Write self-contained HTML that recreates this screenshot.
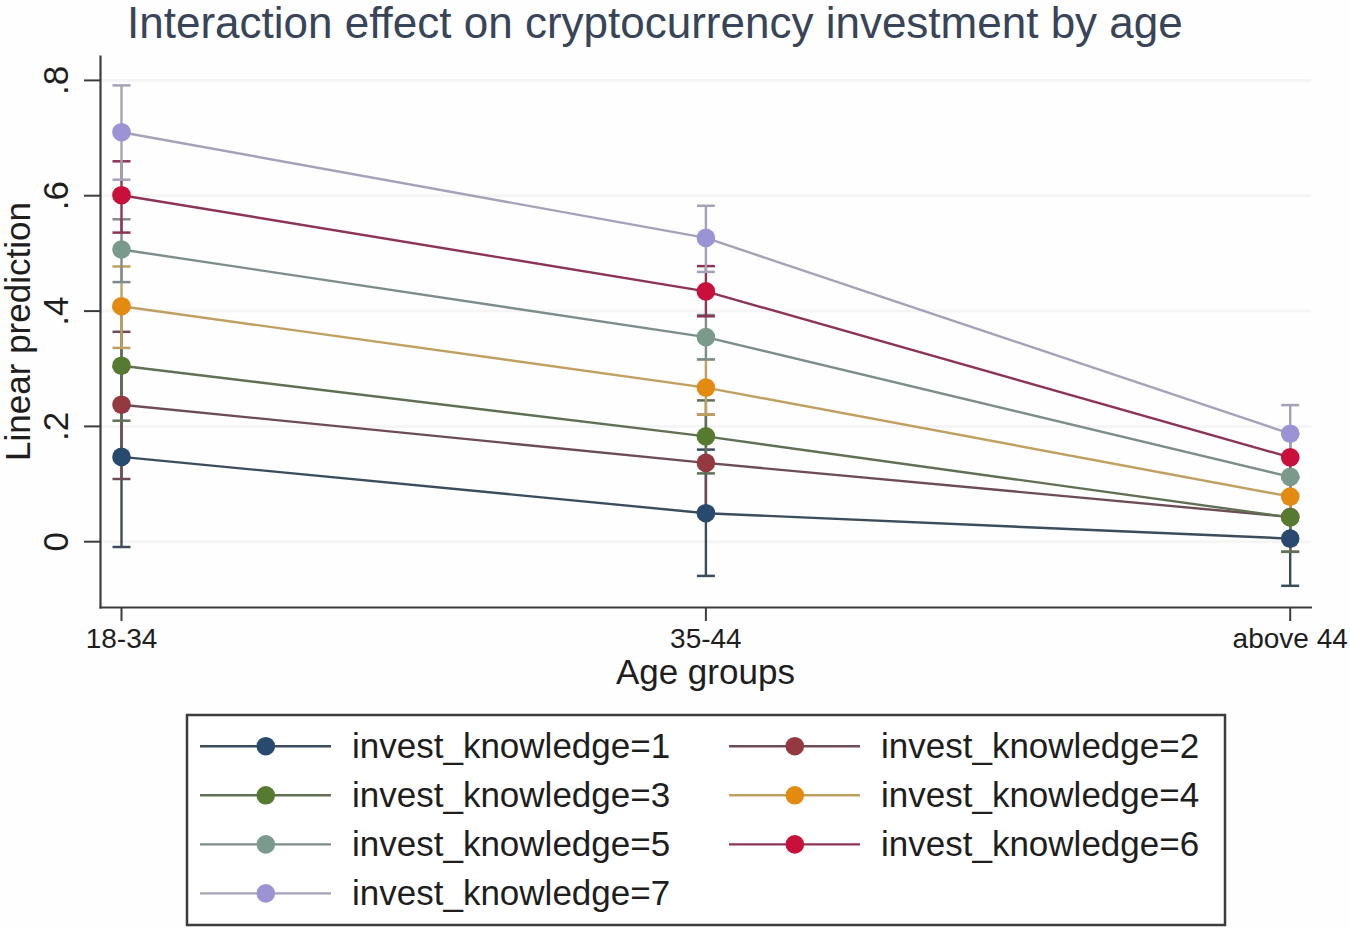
<!DOCTYPE html>
<html><head><meta charset="utf-8"><style>
html,body{margin:0;padding:0;background:#fff;}
body{width:1350px;height:930px;overflow:hidden;}
svg{display:block;}
#wrap{width:1350px;height:930px;}
text{font-family:"Liberation Sans",sans-serif;}
.title{font-size:44px;fill:#384457;}
.axt{font-size:35px;fill:#1e1e1e;}
.xl{font-size:28px;fill:#1e1e1e;}
.yl{font-size:35px;fill:#1e1e1e;}
.lg{font-size:35px;fill:#1e1e1e;}
</style></head><body>
<div id="wrap"><svg width="1350" height="930" viewBox="0 0 1350 930">
<rect width="1350" height="930" fill="#fefefe"/>
<line x1="101" y1="541.7" x2="1311" y2="541.7" stroke="#f5f5f5" stroke-width="3"/>
<line x1="101" y1="426.4" x2="1311" y2="426.4" stroke="#f5f5f5" stroke-width="3"/>
<line x1="101" y1="311.1" x2="1311" y2="311.1" stroke="#f5f5f5" stroke-width="3"/>
<line x1="101" y1="195.7" x2="1311" y2="195.7" stroke="#f5f5f5" stroke-width="3"/>
<line x1="101" y1="80.4" x2="1311" y2="80.4" stroke="#f5f5f5" stroke-width="3"/>
<line x1="100.5" y1="55.5" x2="100.5" y2="608.5" stroke="#3a3e3a" stroke-width="2.2"/>
<line x1="99.5" y1="607.5" x2="1312" y2="607.5" stroke="#3a3e3a" stroke-width="2.2"/>
<line x1="84" y1="541.7" x2="100" y2="541.7" stroke="#3a3e3a" stroke-width="2"/>
<text x="68.3" y="541.7" transform="rotate(-90 68.3 541.7)" text-anchor="middle" class="yl">0</text>
<line x1="84" y1="426.4" x2="100" y2="426.4" stroke="#3a3e3a" stroke-width="2"/>
<text x="68.3" y="426.4" transform="rotate(-90 68.3 426.4)" text-anchor="middle" class="yl">.2</text>
<line x1="84" y1="311.1" x2="100" y2="311.1" stroke="#3a3e3a" stroke-width="2"/>
<text x="68.3" y="311.1" transform="rotate(-90 68.3 311.1)" text-anchor="middle" class="yl">.4</text>
<line x1="84" y1="195.7" x2="100" y2="195.7" stroke="#3a3e3a" stroke-width="2"/>
<text x="68.3" y="195.7" transform="rotate(-90 68.3 195.7)" text-anchor="middle" class="yl">.6</text>
<line x1="84" y1="80.4" x2="100" y2="80.4" stroke="#3a3e3a" stroke-width="2"/>
<text x="68.3" y="80.4" transform="rotate(-90 68.3 80.4)" text-anchor="middle" class="yl">.8</text>
<line x1="121.5" y1="607" x2="121.5" y2="621" stroke="#3a3e3a" stroke-width="2"/>
<text x="121.5" y="648" text-anchor="middle" class="xl">18-34</text>
<line x1="705.9" y1="607" x2="705.9" y2="621" stroke="#3a3e3a" stroke-width="2"/>
<text x="705.9" y="648" text-anchor="middle" class="xl">35-44</text>
<line x1="1290.2" y1="607" x2="1290.2" y2="621" stroke="#3a3e3a" stroke-width="2"/>
<text x="1290.2" y="648" text-anchor="middle" class="xl">above 44</text>
<line x1="121.5" y1="367.0" x2="121.5" y2="547.0" stroke="#3b4c5c" stroke-width="2.4"/>
<line x1="112.5" y1="367.0" x2="130.5" y2="367.0" stroke="#3b4c5c" stroke-width="2.5"/>
<line x1="112.5" y1="547.0" x2="130.5" y2="547.0" stroke="#3b4c5c" stroke-width="2.5"/>
<line x1="705.9" y1="449.6" x2="705.9" y2="575.9" stroke="#3b4c5c" stroke-width="2.4"/>
<line x1="696.9" y1="449.6" x2="714.9" y2="449.6" stroke="#3b4c5c" stroke-width="2.5"/>
<line x1="696.9" y1="575.9" x2="714.9" y2="575.9" stroke="#3b4c5c" stroke-width="2.5"/>
<line x1="1290.2" y1="494.0" x2="1290.2" y2="585.8" stroke="#3b4c5c" stroke-width="2.4"/>
<line x1="1281.2" y1="494.0" x2="1299.2" y2="494.0" stroke="#3b4c5c" stroke-width="2.5"/>
<line x1="1281.2" y1="585.8" x2="1299.2" y2="585.8" stroke="#3b4c5c" stroke-width="2.5"/>
<line x1="121.5" y1="331.8" x2="121.5" y2="479.0" stroke="#6e4c55" stroke-width="2.4"/>
<line x1="112.5" y1="331.8" x2="130.5" y2="331.8" stroke="#6e4c55" stroke-width="2.5"/>
<line x1="112.5" y1="479.0" x2="130.5" y2="479.0" stroke="#6e4c55" stroke-width="2.5"/>
<line x1="705.9" y1="414.7" x2="705.9" y2="511.0" stroke="#6e4c55" stroke-width="2.4"/>
<line x1="696.9" y1="414.7" x2="714.9" y2="414.7" stroke="#6e4c55" stroke-width="2.5"/>
<line x1="696.9" y1="511.0" x2="714.9" y2="511.0" stroke="#6e4c55" stroke-width="2.5"/>
<line x1="1290.2" y1="478.0" x2="1290.2" y2="551.8" stroke="#6e4c55" stroke-width="2.4"/>
<line x1="1281.2" y1="478.0" x2="1299.2" y2="478.0" stroke="#6e4c55" stroke-width="2.5"/>
<line x1="1281.2" y1="551.8" x2="1299.2" y2="551.8" stroke="#6e4c55" stroke-width="2.5"/>
<line x1="121.5" y1="308.0" x2="121.5" y2="420.7" stroke="#5f7055" stroke-width="2.4"/>
<line x1="112.5" y1="308.0" x2="130.5" y2="308.0" stroke="#5f7055" stroke-width="2.5"/>
<line x1="112.5" y1="420.7" x2="130.5" y2="420.7" stroke="#5f7055" stroke-width="2.5"/>
<line x1="705.9" y1="400.4" x2="705.9" y2="473.4" stroke="#5f7055" stroke-width="2.4"/>
<line x1="696.9" y1="400.4" x2="714.9" y2="400.4" stroke="#5f7055" stroke-width="2.5"/>
<line x1="696.9" y1="473.4" x2="714.9" y2="473.4" stroke="#5f7055" stroke-width="2.5"/>
<line x1="1290.2" y1="478.0" x2="1290.2" y2="551.8" stroke="#5f7055" stroke-width="2.4"/>
<line x1="1281.2" y1="478.0" x2="1299.2" y2="478.0" stroke="#5f7055" stroke-width="2.5"/>
<line x1="1281.2" y1="551.8" x2="1299.2" y2="551.8" stroke="#5f7055" stroke-width="2.5"/>
<line x1="121.5" y1="266.5" x2="121.5" y2="347.9" stroke="#c0a060" stroke-width="2.4"/>
<line x1="112.5" y1="266.5" x2="130.5" y2="266.5" stroke="#c0a060" stroke-width="2.5"/>
<line x1="112.5" y1="347.9" x2="130.5" y2="347.9" stroke="#c0a060" stroke-width="2.5"/>
<line x1="705.9" y1="359.4" x2="705.9" y2="414.7" stroke="#c0a060" stroke-width="2.4"/>
<line x1="696.9" y1="359.4" x2="714.9" y2="359.4" stroke="#c0a060" stroke-width="2.5"/>
<line x1="696.9" y1="414.7" x2="714.9" y2="414.7" stroke="#c0a060" stroke-width="2.5"/>
<line x1="1290.2" y1="476.0" x2="1290.2" y2="517.0" stroke="#c0a060" stroke-width="2.4"/>
<line x1="1281.2" y1="476.0" x2="1299.2" y2="476.0" stroke="#c0a060" stroke-width="2.5"/>
<line x1="1281.2" y1="517.0" x2="1299.2" y2="517.0" stroke="#c0a060" stroke-width="2.5"/>
<line x1="121.5" y1="219.3" x2="121.5" y2="282.1" stroke="#7d8d8c" stroke-width="2.4"/>
<line x1="112.5" y1="219.3" x2="130.5" y2="219.3" stroke="#7d8d8c" stroke-width="2.5"/>
<line x1="112.5" y1="282.1" x2="130.5" y2="282.1" stroke="#7d8d8c" stroke-width="2.5"/>
<line x1="705.9" y1="315.0" x2="705.9" y2="359.4" stroke="#7d8d8c" stroke-width="2.4"/>
<line x1="696.9" y1="315.0" x2="714.9" y2="315.0" stroke="#7d8d8c" stroke-width="2.5"/>
<line x1="696.9" y1="359.4" x2="714.9" y2="359.4" stroke="#7d8d8c" stroke-width="2.5"/>
<line x1="1290.2" y1="457.0" x2="1290.2" y2="496.6" stroke="#7d8d8c" stroke-width="2.4"/>
<line x1="1281.2" y1="457.0" x2="1299.2" y2="457.0" stroke="#7d8d8c" stroke-width="2.5"/>
<line x1="1281.2" y1="496.6" x2="1299.2" y2="496.6" stroke="#7d8d8c" stroke-width="2.5"/>
<line x1="121.5" y1="161.3" x2="121.5" y2="232.6" stroke="#8d3358" stroke-width="2.4"/>
<line x1="112.5" y1="161.3" x2="130.5" y2="161.3" stroke="#8d3358" stroke-width="2.5"/>
<line x1="112.5" y1="232.6" x2="130.5" y2="232.6" stroke="#8d3358" stroke-width="2.5"/>
<line x1="705.9" y1="266.1" x2="705.9" y2="316.3" stroke="#8d3358" stroke-width="2.4"/>
<line x1="696.9" y1="266.1" x2="714.9" y2="266.1" stroke="#8d3358" stroke-width="2.5"/>
<line x1="696.9" y1="316.3" x2="714.9" y2="316.3" stroke="#8d3358" stroke-width="2.5"/>
<line x1="1290.2" y1="434.0" x2="1290.2" y2="477.0" stroke="#8d3358" stroke-width="2.4"/>
<line x1="1281.2" y1="434.0" x2="1299.2" y2="434.0" stroke="#8d3358" stroke-width="2.5"/>
<line x1="1281.2" y1="477.0" x2="1299.2" y2="477.0" stroke="#8d3358" stroke-width="2.5"/>
<line x1="121.5" y1="85.4" x2="121.5" y2="179.7" stroke="#a4a2b8" stroke-width="2.4"/>
<line x1="112.5" y1="85.4" x2="130.5" y2="85.4" stroke="#a4a2b8" stroke-width="2.5"/>
<line x1="112.5" y1="179.7" x2="130.5" y2="179.7" stroke="#a4a2b8" stroke-width="2.5"/>
<line x1="705.9" y1="205.8" x2="705.9" y2="271.9" stroke="#a4a2b8" stroke-width="2.4"/>
<line x1="696.9" y1="205.8" x2="714.9" y2="205.8" stroke="#a4a2b8" stroke-width="2.5"/>
<line x1="696.9" y1="271.9" x2="714.9" y2="271.9" stroke="#a4a2b8" stroke-width="2.5"/>
<line x1="1290.2" y1="405.1" x2="1290.2" y2="457.3" stroke="#a4a2b8" stroke-width="2.4"/>
<line x1="1281.2" y1="405.1" x2="1299.2" y2="405.1" stroke="#a4a2b8" stroke-width="2.5"/>
<line x1="1281.2" y1="457.3" x2="1299.2" y2="457.3" stroke="#a4a2b8" stroke-width="2.5"/>
<polyline points="121.5,456.9 705.9,513.2 1290.2,538.6" fill="none" stroke="#3b4c5c" stroke-width="2.4"/>
<circle cx="121.5" cy="456.9" r="9.3" fill="#284a6e"/>
<circle cx="705.9" cy="513.2" r="9.3" fill="#284a6e"/>
<circle cx="1290.2" cy="538.6" r="9.3" fill="#284a6e"/>
<polyline points="121.5,404.7 705.9,462.9 1290.2,517.0" fill="none" stroke="#6e4c55" stroke-width="2.4"/>
<circle cx="121.5" cy="404.7" r="9.3" fill="#93393f"/>
<circle cx="705.9" cy="462.9" r="9.3" fill="#93393f"/>
<circle cx="1290.2" cy="517.0" r="9.3" fill="#93393f"/>
<polyline points="121.5,365.7 705.9,436.4 1290.2,517.4" fill="none" stroke="#5f7055" stroke-width="2.4"/>
<circle cx="121.5" cy="365.7" r="9.3" fill="#567a30"/>
<circle cx="705.9" cy="436.4" r="9.3" fill="#567a30"/>
<circle cx="1290.2" cy="517.4" r="9.3" fill="#567a30"/>
<polyline points="121.5,306.2 705.9,387.6 1290.2,496.6" fill="none" stroke="#c0a060" stroke-width="2.4"/>
<circle cx="121.5" cy="306.2" r="9.3" fill="#e38a10"/>
<circle cx="705.9" cy="387.6" r="9.3" fill="#e38a10"/>
<circle cx="1290.2" cy="496.6" r="9.3" fill="#e38a10"/>
<polyline points="121.5,249.5 705.9,337.1 1290.2,476.8" fill="none" stroke="#7d8d8c" stroke-width="2.4"/>
<circle cx="121.5" cy="249.5" r="9.3" fill="#7a9a8c"/>
<circle cx="705.9" cy="337.1" r="9.3" fill="#7a9a8c"/>
<circle cx="1290.2" cy="476.8" r="9.3" fill="#7a9a8c"/>
<polyline points="121.5,195.2 705.9,291.4 1290.2,457.3" fill="none" stroke="#8d3358" stroke-width="2.4"/>
<circle cx="121.5" cy="195.2" r="9.3" fill="#c8103a"/>
<circle cx="705.9" cy="291.4" r="9.3" fill="#c8103a"/>
<circle cx="1290.2" cy="457.3" r="9.3" fill="#c8103a"/>
<polyline points="121.5,132.2 705.9,237.9 1290.2,433.7" fill="none" stroke="#a4a2b8" stroke-width="2.4"/>
<circle cx="121.5" cy="132.2" r="9.3" fill="#9a94d4"/>
<circle cx="705.9" cy="237.9" r="9.3" fill="#9a94d4"/>
<circle cx="1290.2" cy="433.7" r="9.3" fill="#9a94d4"/>
<text x="127" y="37.8" class="title">Interaction effect on cryptocurrency investment by age</text>
<text x="705.4" y="684.3" text-anchor="middle" class="axt">Age groups</text>
<text x="29.5" y="331.5" transform="rotate(-90 29.5 331.5)" text-anchor="middle" class="axt">Linear prediction</text>
<rect x="187" y="715" width="1038" height="210" fill="#fff" stroke="#3a3e3a" stroke-width="2.5"/>
<line x1="200" y1="746.2" x2="331" y2="746.2" stroke="#3b4c5c" stroke-width="2.4"/>
<circle cx="265.8" cy="746.2" r="9.3" fill="#284a6e"/>
<text x="352" y="758.2" class="lg">invest_knowledge=1</text>
<line x1="729" y1="746.2" x2="860" y2="746.2" stroke="#6e4c55" stroke-width="2.4"/>
<circle cx="794.8" cy="746.2" r="9.3" fill="#93393f"/>
<text x="881" y="758.2" class="lg">invest_knowledge=2</text>
<line x1="200" y1="795.3" x2="331" y2="795.3" stroke="#5f7055" stroke-width="2.4"/>
<circle cx="265.8" cy="795.3" r="9.3" fill="#567a30"/>
<text x="352" y="807.3" class="lg">invest_knowledge=3</text>
<line x1="729" y1="795.3" x2="860" y2="795.3" stroke="#c0a060" stroke-width="2.4"/>
<circle cx="794.8" cy="795.3" r="9.3" fill="#e38a10"/>
<text x="881" y="807.3" class="lg">invest_knowledge=4</text>
<line x1="200" y1="844.4" x2="331" y2="844.4" stroke="#7d8d8c" stroke-width="2.4"/>
<circle cx="265.8" cy="844.4" r="9.3" fill="#7a9a8c"/>
<text x="352" y="856.4" class="lg">invest_knowledge=5</text>
<line x1="729" y1="844.4" x2="860" y2="844.4" stroke="#8d3358" stroke-width="2.4"/>
<circle cx="794.8" cy="844.4" r="9.3" fill="#c8103a"/>
<text x="881" y="856.4" class="lg">invest_knowledge=6</text>
<line x1="200" y1="893.4" x2="331" y2="893.4" stroke="#a4a2b8" stroke-width="2.4"/>
<circle cx="265.8" cy="893.4" r="9.3" fill="#9a94d4"/>
<text x="352" y="905.4" class="lg">invest_knowledge=7</text>
</svg></div>
</body></html>
